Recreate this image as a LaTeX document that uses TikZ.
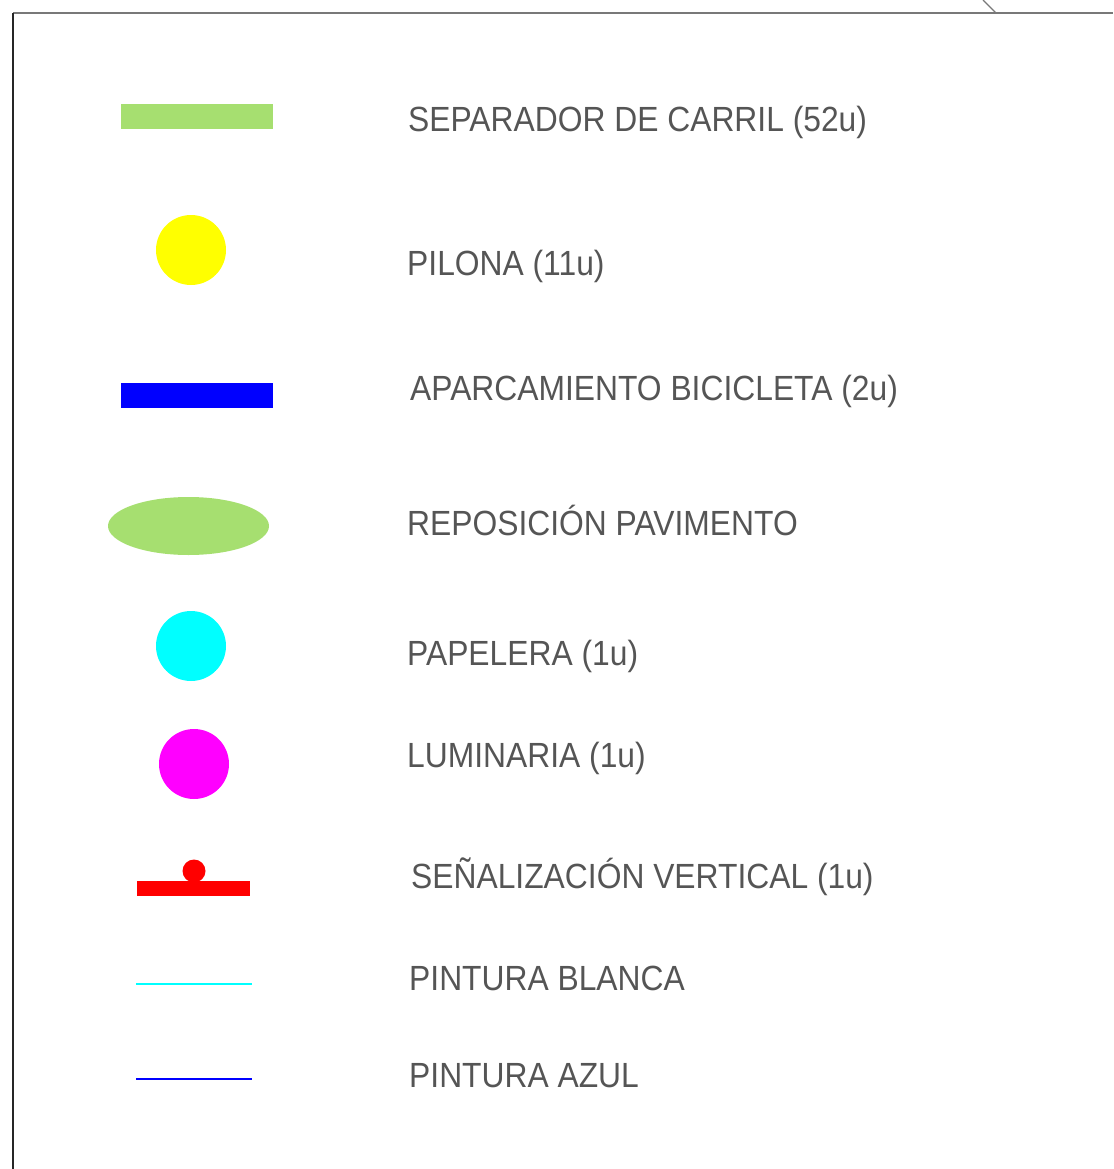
\documentclass[tikz,border=0pt]{standalone}
\usepackage{fontspec}
\setmainfont{Liberation Sans}
\definecolor{txtgray}{RGB}{85,85,85}
\definecolor{lgreen}{RGB}{166,223,112}
\definecolor{framegray}{RGB}{120,120,120}
\definecolor{pyellow}{RGB}{255,255,0}
\definecolor{pcyan}{RGB}{0,255,255}
\definecolor{pmagenta}{RGB}{255,0,255}
\definecolor{pblue}{RGB}{0,0,255}
\definecolor{pred}{RGB}{255,0,0}
\begin{document}
\begin{tikzpicture}[x=1pt,y=-1pt,
  lab/.style={anchor=base west,inner sep=0pt,text=txtgray,font=\fontsize{31.8}{36}\selectfont,yscale=1.1},
  frame/.style={line width=1.3pt}]
\useasboundingbox (0,0) rectangle (1113,1169);
% frame
\coordinate (tl) at (13,13);
\coordinate (tr) at (1113,13);
\coordinate (bl) at (13,1169);
\coordinate (d1) at (983,0);
\coordinate (d2) at (996,13);
\draw[frame,framegray] (tl) -- (tr);
\draw[frame,black!85] (tl) -- (bl);
\draw[frame,framegray] (d1) -- (d2);
% symbols
\fill[lgreen] (121,104) rectangle (273,129);
\fill[pyellow] (191,250) circle (35);
\fill[pblue] (121,383) rectangle (273,408);
\fill[lgreen] (188.5,526) ellipse (80.5 and 29);
\fill[pcyan] (191,646) circle (35);
\fill[pmagenta] (194,764) circle (35);
\fill[pred] (137,881) rectangle (250,896);
\fill[pred] (194,871) circle (11.5);
\draw[pcyan,line width=2pt] (136,984) -- (252,984);
\draw[pblue,line width=2pt] (136,1079) -- (252,1079);
% labels
\node[lab] (l1) at (408,132) {SEPARADOR DE CARRIL (52u)};
\node[lab] (l2) at (407,275.5) {PILONA (11u)};
\node[lab] (l3) at (410,400) {APARCAMIENTO BICICLETA (2u)};
\node[lab] (l4) at (407,535) {REPOSICIÓN PAVIMENTO};
\node[lab] (l5) at (407,665) {PAPELERA (1u)};
\node[lab] (l6) at (407,767) {LUMINARIA (1u)};
\node[lab] (l7) at (411,888) {SEÑALIZACIÓN VERTICAL (1u)};
\node[lab] (l8) at (409,990) {PINTURA BLANCA};
\node[lab] (l9) at (409,1087) {PINTURA AZUL};
\end{tikzpicture}
\end{document}
